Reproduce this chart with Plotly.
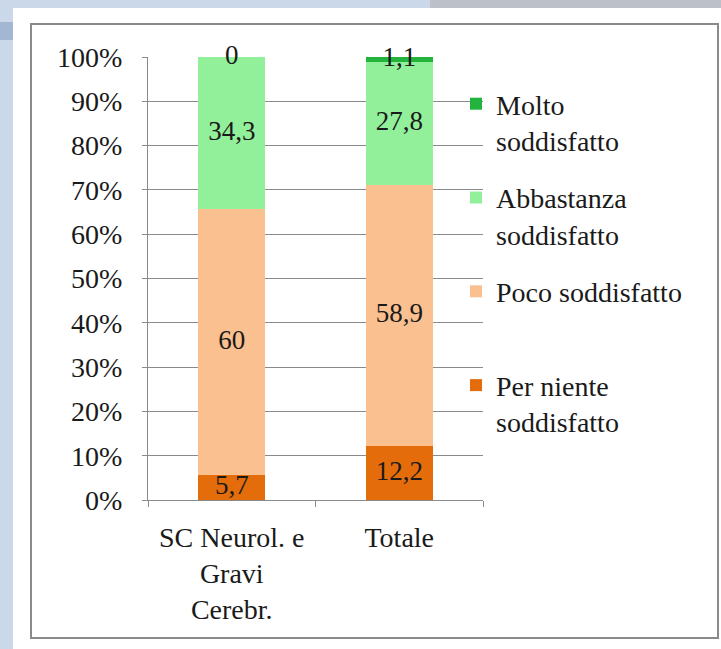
import plotly.graph_objects as go

# Dati (percentuali)
categorie = ["SC Neurol. e<br>Gravi<br>Cerebr.", "Totale"]
per_niente = [5.7, 12.2]
poco = [60, 58.9]
abbastanza = [34.3, 27.8]
molto = [0, 1.1]

# nome, valori, colore, posizione nella legenda
serie = [
    ("Per niente<br>soddisfatto", per_niente, "#e46c0a", 4),
    ("Poco soddisfatto<br> ", poco, "#fac090", 3),
    ("Abbastanza<br>soddisfatto", abbastanza, "#92f09a", 2),
    ("Molto<br>soddisfatto", molto, "#22b43c", 1),
]

FONT = "Times New Roman"

fig = go.Figure()

for nome, valori, colore, rank in serie:
    fig.add_trace(go.Bar(
        x=categorie, y=valori, name=nome, legendgroup=nome, legendrank=rank,
        marker=dict(color=colore, line=dict(width=0)),
        hoverinfo="skip",
    ))

# etichette dei dati al centro di ogni segmento
base = [0] * len(categorie)
for nome, valori, colore, rank in serie:
    centri = [b + v / 2 for b, v in zip(base, valori)]
    testi = [str(v).replace(".", ",") for v in valori]
    fig.add_trace(go.Scatter(
        x=categorie, y=centri, mode="text", text=testi,
        textfont=dict(family=FONT, size=27, color="#1a1a1a"),
        cliponaxis=False, showlegend=False, hoverinfo="skip",
    ))
    base = [b + v for b, v in zip(base, valori)]

# conversione pixel -> coordinate paper dell'area del grafico
L, R, T, B = 148, 483, 57, 500
def px_x(p):
    return (p - L) / (R - L)
def px_y(p):
    return (B - p) / (B - T)

shapes = [
    # riquadro bianco della finestra
    dict(type="rect", xref="paper", yref="paper", layer="below",
         x0=px_x(13), x1=px_x(721), y0=px_y(649), y1=px_y(8),
         fillcolor="white", line=dict(width=0)),
    # banda superiore grigia a destra
    dict(type="rect", xref="paper", yref="paper", layer="below",
         x0=px_x(430), x1=px_x(721), y0=px_y(8), y1=px_y(0),
         fillcolor="#bcc0c9", line=dict(width=0)),
    # banda scura a sinistra
    dict(type="rect", xref="paper", yref="paper", layer="below",
         x0=px_x(0), x1=px_x(13), y0=px_y(40), y1=px_y(22),
         fillcolor="#a3b6d2", line=dict(width=0)),
    # bordo del grafico
    dict(type="rect", xref="paper", yref="paper", layer="below",
         x0=px_x(31), x1=px_x(718), y0=px_y(638), y1=px_y(24),
         fillcolor="rgba(0,0,0,0)", line=dict(color="#8a8a8a", width=2)),
]

fig.update_layout(
    width=721, height=649,
    margin=dict(l=L, r=721 - R, t=T, b=649 - B),
    paper_bgcolor="#cbd8ea",
    plot_bgcolor="rgba(0,0,0,0)",
    barmode="stack",
    bargap=0.6,
    font=dict(family=FONT, size=28, color="#1a1a1a"),
    shapes=shapes,
    showlegend=True,
    legend=dict(
        x=px_x(456), y=px_y(79), xanchor="left", yanchor="top",
        traceorder="grouped", tracegroupgap=18,
        valign="top", itemwidth=30,
        bgcolor="rgba(0,0,0,0)",
        font=dict(family=FONT, size=28, color="#1a1a1a"),
    ),
)

fig.update_xaxes(
    showline=True, linecolor="#8a8a8a", linewidth=1,
    ticks="outside", tickson="boundaries", ticklen=6, tickcolor="#8a8a8a",
    ticklabelstandoff=12,
    tickfont=dict(family=FONT, size=28, color="#1a1a1a"),
)
fig.update_yaxes(
    range=[0, 100], dtick=10, ticksuffix="%",
    showgrid=True, gridcolor="#8a8a8a", gridwidth=1,
    showline=True, linecolor="#8a8a8a", linewidth=1,
    ticks="outside", ticklen=5, tickcolor="#8a8a8a",
    ticklabelstandoff=14, zeroline=False,
    tickfont=dict(family=FONT, size=28, color="#1a1a1a"),
)

# la pagina ha un margine di 8px di default: lo tolgo
fig.write_html("out.html", config={"displayModeBar": False},
               post_script="document.body.style.margin='0';")
